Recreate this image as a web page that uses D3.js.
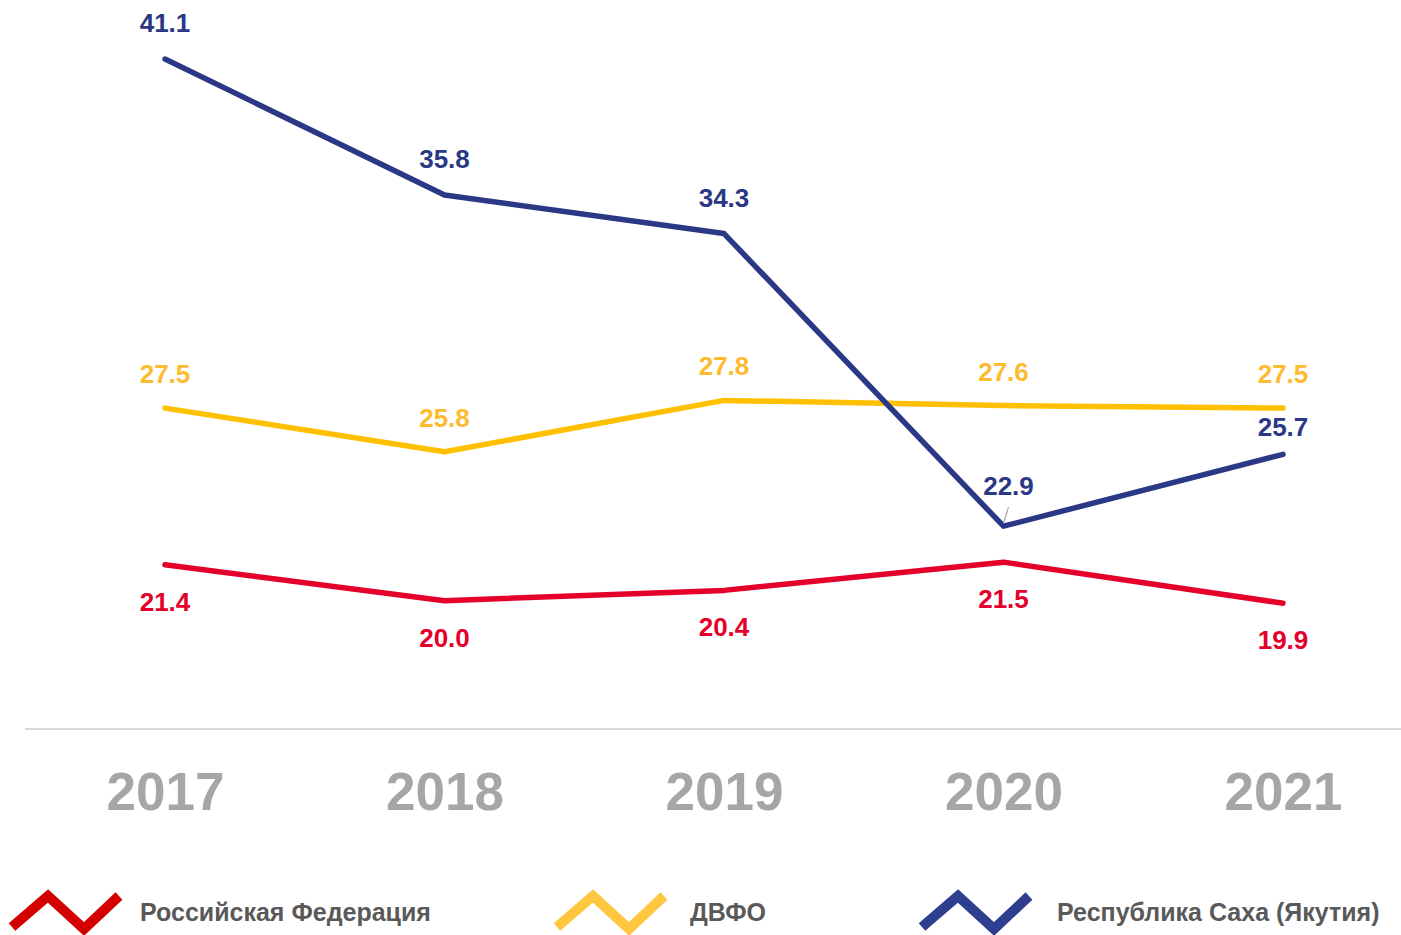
<!DOCTYPE html>
<html>
<head>
<meta charset="utf-8">
<script src="https://cdn.jsdelivr.net/npm/d3@7"></script>
<style>
  body { margin: 0; background: #fff; }
  svg { display: block; font-family: "Liberation Sans", Arial, sans-serif; }
</style>
</head>
<body>
<div class="container"></div>
<script>
// chart data
var years = ["2017", "2018", "2019", "2020", "2021"];
var seriesNames = ["Российская Федерация", "ДВФО", "Республика Саха (Якутия)"];
var rfValues = [21.4, 20.0, 20.4, 21.5, 19.9];
var dvfoValues = [27.5, 25.8, 27.8, 27.6, 27.5];
var sakhaValues = [41.1, 35.8, 34.3, 22.9, 25.7];

// look
const width = 1401, height = 935;
const lineColors = ["#e4002b", "#ffc000", "#2a3886"];
const textColors = ["#e4002b", "#fdbb30", "#2a3886"];
const legendColors = ["#d40000", "#ffc640", "#2e3f8f"];

var series = [
    { name: seriesNames[0], values: rfValues, line: lineColors[0], text: textColors[0], legend: legendColors[0], dy: 46 },
    { name: seriesNames[1], values: dvfoValues, line: lineColors[1], text: textColors[1], legend: legendColors[1], dy: -25 },
    { name: seriesNames[2], values: sakhaValues, line: lineColors[2], text: textColors[2], legend: legendColors[2], dy: -27 }
];

let svg = d3.select(".container").append("svg").attr("width", width).attr("height", height);

let x = d3.scalePoint().domain(years).range([165, 1283]);
let y = d3.scaleLinear().domain([15, 41.1]).range([729, 59]);

// baseline
svg.append("line")
    .attr("x1", 25).attr("x2", 1401)
    .attr("y1", y(15)).attr("y2", y(15))
    .attr("stroke", "#d9d9d9").attr("stroke-width", 2);

// year labels
let xAxis = d3.axisBottom(x).tickSize(0).tickPadding(0);
let gx = svg.append("g").attr("transform", "translate(0," + y(15) + ")").call(xAxis);
gx.select(".domain").remove();
gx.selectAll("text")
    .attr("y", 81).attr("dy", null)
    .attr("font-family", "Liberation Sans, Arial, sans-serif")
    .attr("font-size", 53).attr("font-weight", "bold")
    .attr("fill", "#a6a6a6");

let line = d3.line().x((d, i) => x(years[i])).y(d => y(d));

series.forEach((s, si) => {
    svg.append("path")
        .attr("d", line(s.values))
        .attr("fill", "none")
        .attr("stroke", s.line)
        .attr("stroke-width", 5.5)
        .attr("stroke-linejoin", "round")
        .attr("stroke-linecap", "round");
});

// leader line for 22.9
svg.append("line")
    .attr("x1", x("2020") + 0).attr("y1", y(sakhaValues[3]) - 3)
    .attr("x2", x("2020") + 5).attr("y2", y(sakhaValues[3]) - 19)
    .attr("stroke", "#a6a6a6").attr("stroke-width", 1.2);

// value labels
series.forEach((s, si) => {
    svg.append("g").selectAll("text").data(s.values).enter().append("text")
        .attr("x", (d, i) => x(years[i]) + (si == 2 && i == 3 ? 5 : 0))
        .attr("y", (d, i) => {
            let dy = s.dy;
            if (si == 2 && i == 3) dy = -31;
            if (si == 2 && i == 4) dy = -18;
            return y(d) + dy;
        })
        .attr("text-anchor", "middle")
        .attr("font-size", 26).attr("font-weight", "bold")
        .attr("fill", s.text)
        .text(d => d.toFixed(1));
});

// legend
const legendX = [12, 557, 922];
const textX = [140, 690, 1057];
series.forEach((s, si) => {
    let g = svg.append("g").attr("transform", "translate(" + legendX[si] + ",0)");
    g.append("polyline")
        .attr("points", "0,927 36,896 72,929 107,896")
        .attr("fill", "none")
        .attr("stroke", s.legend)
        .attr("stroke-width", 10)
        .attr("stroke-linejoin", "miter");
    svg.append("text")
        .attr("x", textX[si]).attr("y", 921)
        .attr("font-size", 25).attr("font-weight", "bold")
        .attr("fill", "#595959")
        .text(s.name);
});
</script>
</body>
</html>
